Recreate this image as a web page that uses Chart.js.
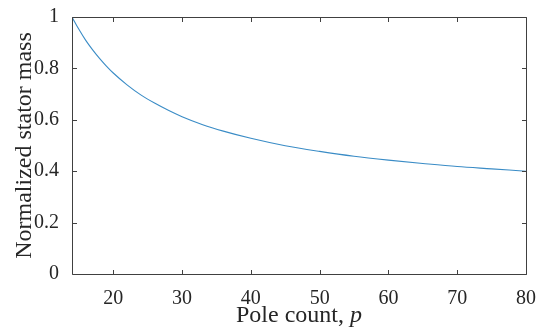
<!DOCTYPE html>
<html>
<head>
<meta charset="utf-8">
<script src="https://cdn.jsdelivr.net/npm/chart.js@4"></script>
<style>
  html, body { margin: 0; padding: 0; background: #fff; }
  #wrap { width: 537px; height: 331px; }
</style>
</head>
<body>
<div id="wrap"><canvas id="c"></canvas></div>
<script>
// values
const poleCounts = [14, 15, 16, 17, 18, 19, 20, 22, 24, 26, 28, 30, 33, 36, 40, 45, 50, 55, 60, 65, 70, 75, 80];
const statorMass = [1.000, 0.952, 0.909, 0.872, 0.839, 0.809, 0.782, 0.736, 0.697, 0.665, 0.637, 0.612,
                    0.581, 0.556, 0.528, 0.499, 0.477, 0.458, 0.443, 0.430, 0.418, 0.409, 0.400];
const xTicks = [20, 30, 40, 50, 60, 70, 80];
const yTicks = [0, 0.2, 0.4, 0.6, 0.8, 1];

const SERIF = '"Liberation Serif", "DejaVu Serif", serif';
const AXIS = '#404040';
const TEXT = '#262626';

// box, inward ticks on all four sides, axis titles (italic p)
const matlabAxes = {
  id: 'matlabAxes',
  afterDraw(chart) {
    const { ctx, chartArea: a, scales: { x, y } } = chart;
    const L = Math.round(a.left) + 0.5, R = Math.round(a.right) + 0.5;
    const T = Math.round(a.top) + 0.5, B = Math.round(a.bottom) + 0.5;
    const len = 4.5;
    ctx.save();
    ctx.strokeStyle = AXIS;
    ctx.lineWidth = 1;
    ctx.beginPath();
    ctx.rect(L, T, R - L, B - T);
    x.ticks.forEach(t => {
      const px = Math.round(x.getPixelForValue(t.value)) + 0.5;
      ctx.moveTo(px, B); ctx.lineTo(px, B - len);
      ctx.moveTo(px, T); ctx.lineTo(px, T + len);
    });
    y.ticks.forEach(t => {
      const py = Math.round(y.getPixelForValue(t.value)) + 0.5;
      ctx.moveTo(L, py); ctx.lineTo(L + len, py);
      ctx.moveTo(R, py); ctx.lineTo(R - len, py);
    });
    ctx.stroke();

    ctx.fillStyle = TEXT;
    ctx.textBaseline = 'alphabetic';
    // x title
    const part1 = 'Pole count, ';
    ctx.font = '24px ' + SERIF;
    const w1 = ctx.measureText(part1).width;
    ctx.font = 'italic 24px ' + SERIF;
    const w2 = ctx.measureText('p').width;
    const cx = (a.left + a.right) / 2;
    let sx = cx - (w1 + w2) / 2;
    ctx.font = '24px ' + SERIF;
    ctx.textAlign = 'left';
    ctx.fillText(part1, sx, 322);
    ctx.font = 'italic 24px ' + SERIF;
    ctx.fillText('p', sx + w1, 322);
    // y title
    ctx.translate(31, (a.top + a.bottom) / 2);
    ctx.rotate(-Math.PI / 2);
    ctx.font = '24px ' + SERIF;
    ctx.textAlign = 'center';
    ctx.fillText('Normalized stator mass', 0, 0);
    ctx.restore();
  }
};

const noPad = s => { s.paddingLeft = 0; s.paddingRight = 0; s.paddingTop = 0; s.paddingBottom = 0; };

new Chart(document.getElementById('c'), {
  type: 'line',
  data: {
    datasets: [{
      data: poleCounts.map((p, i) => ({ x: p, y: statorMass[i] })),
      borderColor: '#3a8cc6',
      borderWidth: 1.1,
      pointRadius: 0,
      fill: false,
      cubicInterpolationMode: 'monotone'
    }]
  },
  options: {
    responsive: true,
    maintainAspectRatio: false,
    animation: false,
    layout: { padding: { left: 0, right: 11, top: 17, bottom: 0 } },
    plugins: { legend: { display: false }, tooltip: { enabled: false } },
    scales: {
      x: {
        type: 'linear',
        min: 14, max: 80,
        grid: { display: false },
        border: { display: false },
        afterBuildTicks: s => { s.ticks = xTicks.map(v => ({ value: v })); },
        afterFit: s => { s.height = 57; noPad(s); },
        ticks: { color: TEXT, font: { family: SERIF, size: 20 }, padding: 5, maxRotation: 0 }
      },
      y: {
        min: 0, max: 1,
        grid: { display: false },
        border: { display: false },
        afterBuildTicks: s => { s.ticks = yTicks.map(v => ({ value: v })); },
        afterFit: s => { s.width = 72; noPad(s); },
        ticks: {
          color: TEXT, font: { family: SERIF, size: 20 }, padding: 5,
          callback: v => String(Math.round(v * 10) / 10)
        }
      }
    }
  },
  plugins: [matlabAxes]
});
</script>
</body>
</html>
